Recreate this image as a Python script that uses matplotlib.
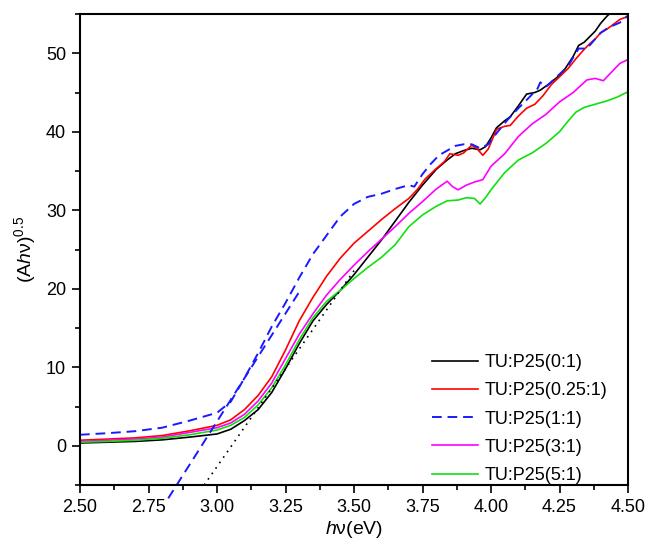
import matplotlib
matplotlib.use("Agg")
import matplotlib.pyplot as plt
from matplotlib.ticker import MultipleLocator

plt.rcParams['font.family'] = ['Liberation Sans', 'DejaVu Sans']
plt.rcParams['mathtext.fontset'] = 'custom'
plt.rcParams['mathtext.rm'] = 'Liberation Sans'
plt.rcParams['mathtext.it'] = 'Liberation Sans:italic'
plt.rcParams['mathtext.bf'] = 'Liberation Sans:bold'

labels = ["TU:P25(0:1)", "TU:P25(0.25:1)", "TU:P25(1:1)", "TU:P25(3:1)", "TU:P25(5:1)"]

x_black = [2.50, 2.60, 2.70, 2.80, 2.90, 3.00, 3.05, 3.10, 3.15, 3.20, 3.25, 3.30, 3.35, 3.40, 3.45,
           3.50, 3.55, 3.60, 3.65, 3.70, 3.75, 3.78, 3.80, 3.84, 3.87, 3.90, 3.93, 3.96, 3.98, 4.00,
           4.02, 4.05, 4.07, 4.10, 4.13, 4.16, 4.18, 4.20, 4.22, 4.25, 4.27, 4.30, 4.32, 4.34, 4.36,
           4.38, 4.40, 4.42, 4.44, 4.46, 4.50]
y_black = [0.35, 0.45, 0.55, 0.75, 1.1, 1.5, 2.1, 3.2, 4.6, 6.8, 9.8, 13.0, 15.9, 18.0, 19.8,
           21.8, 24.0, 26.2, 28.6, 31.0, 33.2, 34.4, 35.2, 36.4, 37.2, 37.6, 37.9, 37.7, 38.1, 39.2,
           40.5, 41.4, 41.9, 43.3, 44.8, 45.0, 45.3, 45.8, 46.3, 47.2, 48.0, 49.6, 51.0, 51.4, 52.1,
           52.8, 53.8, 54.6, 55.3, 55.8, 57.0]

x_red = [2.50, 2.60, 2.70, 2.80, 2.90, 3.00, 3.05, 3.10, 3.15, 3.20, 3.25, 3.30, 3.35, 3.40, 3.45,
         3.50, 3.55, 3.60, 3.65, 3.70, 3.73, 3.76, 3.80, 3.83, 3.85, 3.88, 3.90, 3.93, 3.95, 3.97,
         3.99, 4.02, 4.05, 4.07, 4.10, 4.13, 4.16, 4.19, 4.22, 4.25, 4.28, 4.31, 4.34, 4.36, 4.38,
         4.40, 4.42, 4.44, 4.47, 4.50]
y_red = [0.7, 0.85, 1.0, 1.3, 1.9, 2.6, 3.3, 4.6, 6.4, 8.8, 12.2, 15.9, 18.9, 21.6, 23.9,
         25.8, 27.3, 28.8, 30.2, 31.5, 32.6, 34.0, 35.3, 36.2, 37.2, 37.0, 37.3, 38.3, 37.8, 37.0,
         37.8, 40.3, 40.7, 40.8, 42.0, 43.0, 43.5, 44.6, 46.0, 47.0, 48.0, 49.3, 50.5, 51.2, 51.8,
         52.6, 53.0, 53.5, 54.3, 54.7]

x_blue = [2.50, 2.60, 2.70, 2.80, 2.90, 3.00, 3.05, 3.10, 3.15, 3.20, 3.25, 3.30, 3.35, 3.40, 3.45,
          3.50, 3.55, 3.60, 3.65, 3.70, 3.72, 3.75, 3.78, 3.81, 3.85, 3.87, 3.90, 3.93, 3.96, 3.99,
          4.02, 4.06, 4.10, 4.14, 4.17, 4.18, 4.20, 4.24, 4.28, 4.32, 4.35, 4.38, 4.40, 4.43, 4.47,
          4.50]
y_blue = [1.4, 1.6, 1.85, 2.3, 3.2, 4.2, 5.6, 8.6, 11.8, 15.2, 18.2, 21.4, 24.4, 26.8, 29.2,
          30.8, 31.7, 32.1, 32.7, 33.2, 33.0, 34.6, 35.9, 37.0, 37.8, 38.2, 38.4, 38.4, 37.9, 38.4,
          39.8, 41.5, 43.0, 44.4, 45.5, 46.3, 45.7, 47.0, 48.3, 50.6, 50.6, 51.8, 52.6, 53.3, 53.9,
          54.8]

x_mag = [2.50, 2.60, 2.70, 2.80, 2.90, 3.00, 3.05, 3.10, 3.15, 3.20, 3.25, 3.30, 3.35, 3.40, 3.45,
         3.50, 3.55, 3.60, 3.65, 3.70, 3.75, 3.80, 3.84, 3.86, 3.88, 3.91, 3.94, 3.97, 4.00, 4.05,
         4.10, 4.15, 4.20, 4.25, 4.30, 4.35, 4.38, 4.41, 4.44, 4.47, 4.50]
y_mag = [0.55, 0.7, 0.85, 1.1, 1.7, 2.3, 2.9, 4.0, 5.7, 8.0, 11.1, 14.2, 16.8, 19.2, 21.2,
         23.0, 24.7, 26.3, 27.9, 29.6, 31.1, 32.7, 33.7, 33.0, 32.6, 33.2, 33.6, 33.9, 35.6, 37.2,
         39.4, 41.0, 42.2, 43.8, 45.0, 46.6, 46.8, 46.5, 47.6, 48.7, 49.2]

x_green = [2.50, 2.60, 2.70, 2.80, 2.90, 3.00, 3.05, 3.10, 3.15, 3.20, 3.25, 3.30, 3.35, 3.40, 3.45,
           3.50, 3.55, 3.60, 3.65, 3.70, 3.75, 3.80, 3.84, 3.88, 3.91, 3.94, 3.96, 3.98, 4.00, 4.05,
           4.10, 4.15, 4.20, 4.25, 4.28, 4.31, 4.34, 4.38, 4.42, 4.46, 4.50]
y_green = [0.45, 0.55, 0.7, 0.95, 1.4, 2.0, 2.6, 3.6, 5.2, 7.4, 10.3, 13.5, 16.3, 18.4, 19.8,
           21.3, 22.7, 24.0, 25.6, 27.9, 29.4, 30.5, 31.2, 31.3, 31.6, 31.5, 30.8, 31.6, 32.6, 34.8,
           36.4, 37.3, 38.5, 40.0, 41.3, 42.5, 43.1, 43.5, 43.9, 44.4, 45.1]

# tangent (extrapolation) lines: endpoints
tan_black_x = [2.953, 3.50]
tan_black_y = [-5.0, 22.3]
tan_blue_x = [2.822, 3.30]
tan_blue_y = [-6.7, 19.6]

fig = plt.figure(figsize=(6.52, 5.45), dpi=100)
ax = fig.add_axes([80/652, 1-485/545, 548/652, 471/545])

ax.plot(x_black, y_black, color='black', lw=1.2, label=labels[0])
ax.plot(x_red, y_red, color='#ff0000', lw=1.2, label=labels[1])
ax.plot(x_blue, y_blue, color='#1a1aff', lw=1.4, ls=(0, (5, 3)), label=labels[2])
ax.plot(x_mag, y_mag, color='#ff00ff', lw=1.2, label=labels[3])
ax.plot(x_green, y_green, color='#10e010', lw=1.2, label=labels[4])

ax.plot(tan_black_x, tan_black_y, color='black', lw=1.2, ls=(0, (1, 3)), clip_on=False)
ax.plot(tan_blue_x, tan_blue_y, color='#1a1aff', lw=1.4, ls=(0, (5, 3)), clip_on=False)

ax.set_xlim(2.5, 4.5)
ax.set_ylim(-5, 55)
ax.xaxis.set_major_locator(MultipleLocator(0.25))
ax.xaxis.set_minor_locator(MultipleLocator(0.125))
ax.yaxis.set_major_locator(MultipleLocator(10))
ax.yaxis.set_minor_locator(MultipleLocator(5))
ax.xaxis.set_major_formatter(matplotlib.ticker.FormatStrFormatter('%.2f'))

ax.tick_params(which='major', direction='out', length=6, width=1.2, labelsize=13, pad=4)
ax.tick_params(which='minor', direction='out', length=3.5, width=1.2)
for s in ax.spines.values():
    s.set_linewidth(1.5)

ax.set_xlabel(r'$\mathit{h}\mathrm{ν}$(eV)', fontsize=14, labelpad=2)
ax.set_ylabel(r'$\mathrm{(A}\mathit{h}\mathrm{ν)}^{0.5}$', fontsize=14, labelpad=6)

leg = ax.legend(loc='center left', bbox_to_anchor=(0.642, 0.14), frameon=False, fontsize=13,
                handlelength=2.55, handletextpad=0.4, labelspacing=0.62, borderpad=0,
                borderaxespad=0)

fig.savefig('out.png', dpi=100)
